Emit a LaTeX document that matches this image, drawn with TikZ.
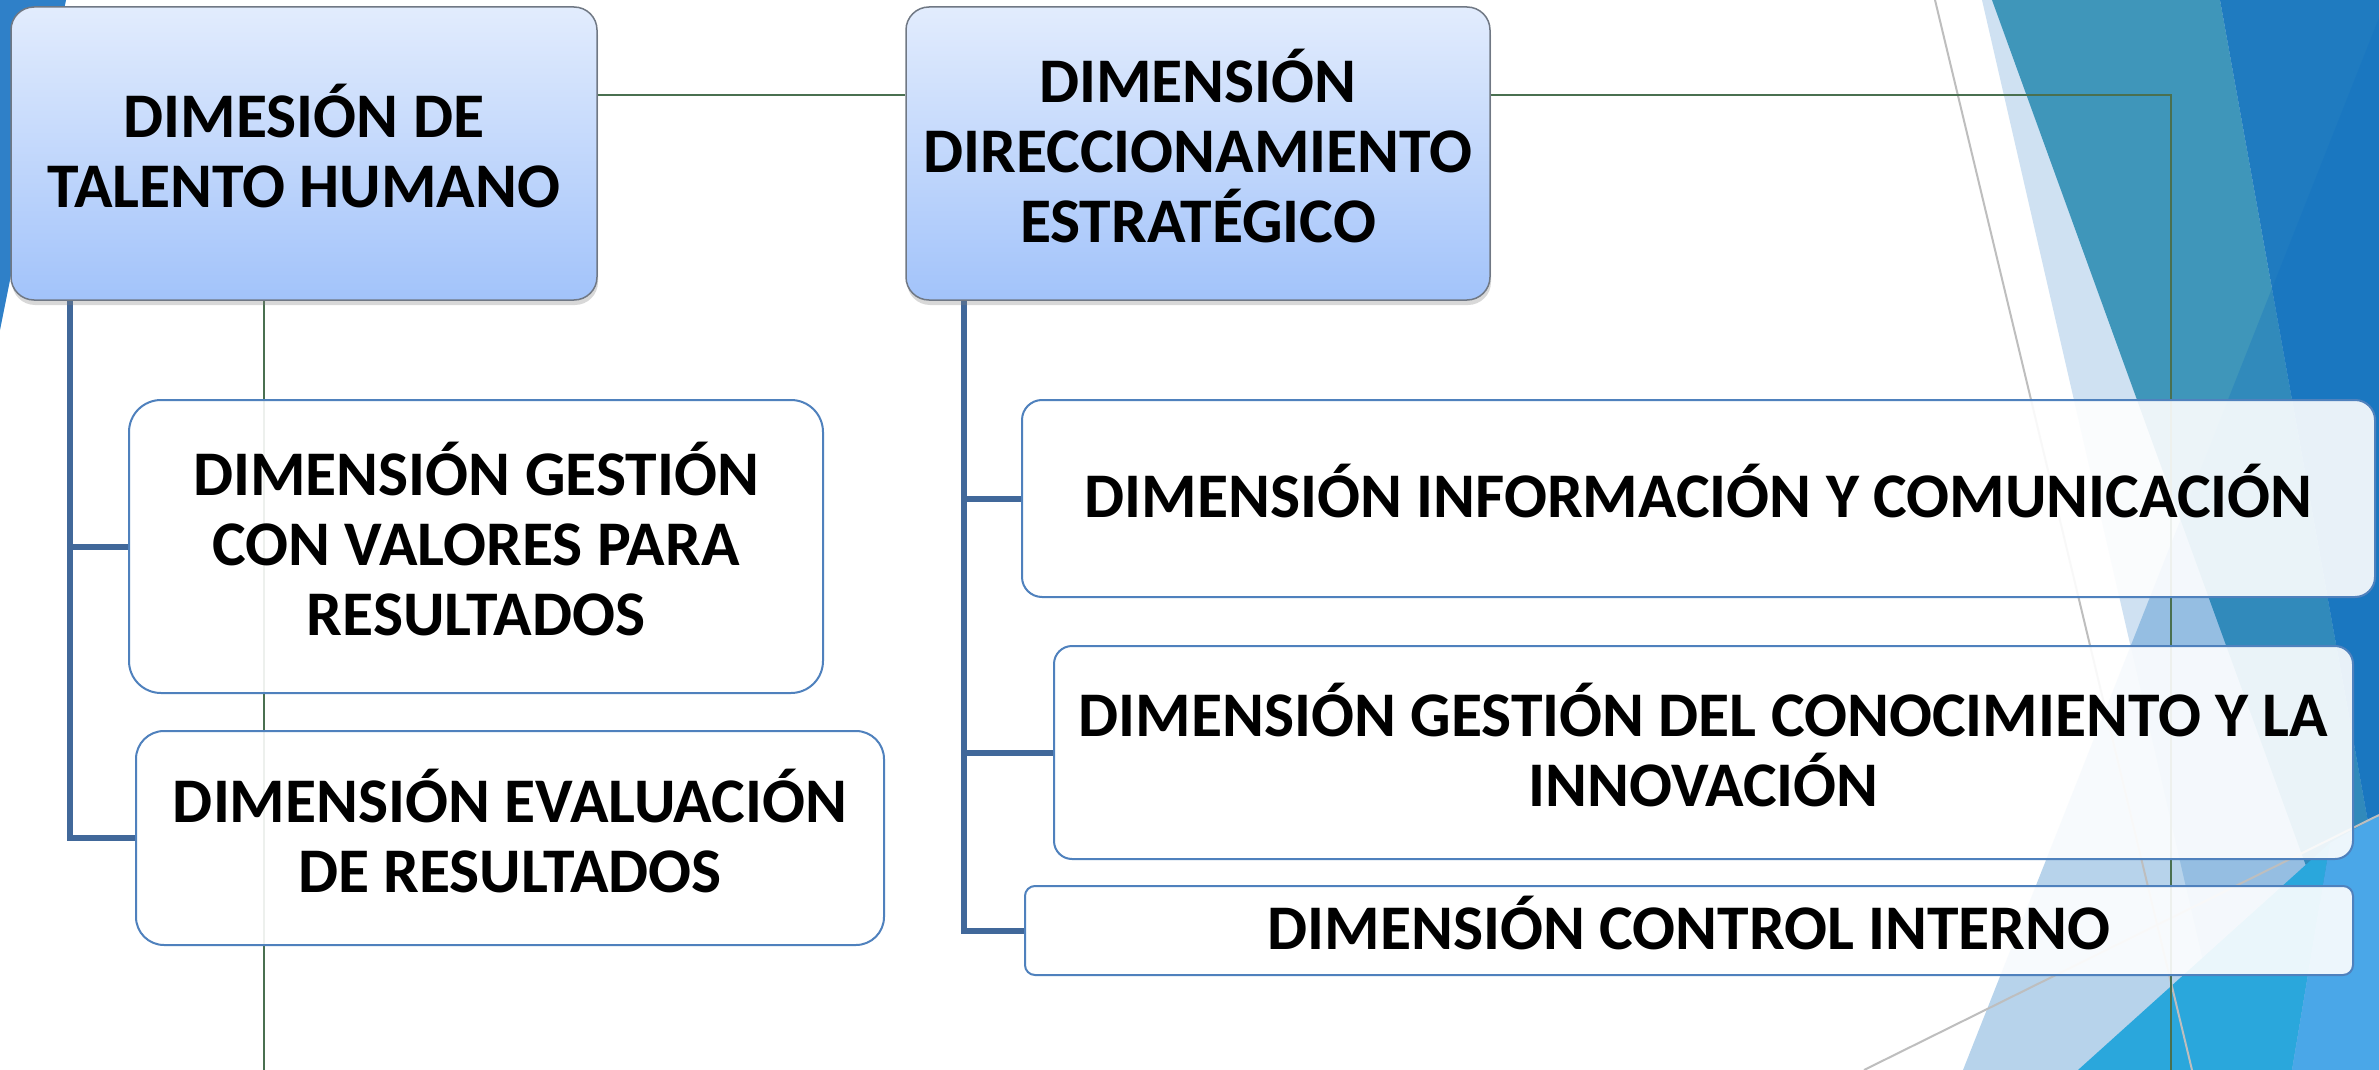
\documentclass[tikz,border=0pt]{standalone}
\usepackage{fontspec}
\setmainfont{Carlito}
\usetikzlibrary{shadows}
\pgfdeclarelayer{bg}
\pgfsetlayers{bg,main}
\definecolor{treeblue}{RGB}{65,104,154}
\definecolor{boxline}{RGB}{79,129,189}
\definecolor{greenline}{RGB}{74,112,80}
\definecolor{topc}{RGB}{226,236,253}
\definecolor{botc}{RGB}{162,195,250}
\definecolor{hdrline}{RGB}{112,120,132}
\definecolor{leftblue}{RGB}{47,128,200}
\definecolor{bandlight}{RGB}{207,225,242}
\definecolor{tealc}{RGB}{63,150,186}
\definecolor{darkblue}{RGB}{31,123,192}
\definecolor{ovblue}{RGB}{17,112,192}
\definecolor{cyanc}{RGB}{42,167,220}
\definecolor{lightb}{RGB}{74,167,232}
\definecolor{grayl}{RGB}{190,190,190}
\begin{document}
\begin{tikzpicture}[x=0.5pt,y=-0.5pt,
  hdr/.style={draw=hdrline, line width=0.75pt, top color=topc, bottom color=botc,
    rounded corners=11.5pt, inner sep=0pt,
    drop shadow={shadow xshift=0.5pt, shadow yshift=-2.5pt, opacity=0.3}},
  sub/.style={draw=boxline, line width=1pt, fill=white, fill opacity=0.9, inner sep=0pt},
  lbl/.style={font=\fontsize{31.8}{35}\selectfont\bfseries, align=center, inner sep=0pt, yshift=3.5pt},
  tree/.style={draw=treeblue, line width=3pt},
  conn/.style={draw=greenline, line width=0.75pt},
  gline/.style={draw=grayl, line width=1pt}]
\useasboundingbox (0,0) rectangle (2379,1070);

% boxes
\node[hdr, minimum width=293pt, minimum height=146.5pt] (b1) at (304,153.5) {};
\node[hdr, minimum width=292pt, minimum height=146.5pt] (b2) at (1198,153.5) {};
\node[sub, rounded corners=16pt, minimum width=347pt, minimum height=146.5pt] (b3) at (476,546.5) {};
\node[sub, rounded corners=14pt, minimum width=374pt, minimum height=107pt] (b4) at (510,838) {};
\node[sub, rounded corners=10pt, minimum width=676.5pt, minimum height=98.5pt] (b5) at (1698.5,498.5) {};
\node[sub, rounded corners=9pt, minimum width=649.5pt, minimum height=106.5pt] (b6) at (1703.5,752.5) {};
\node[sub, rounded corners=5pt, minimum width=664pt, minimum height=44.5pt] (b7) at (1689,930.5) {};

% texts
\node[lbl] (t1) at (b1.center) {DIMESIÓN DE\\TALENTO HUMANO};
\node[lbl] (t2) at (b2.center) {DIMENSIÓN\\DIRECCIONAMIENTO\\ESTRATÉGICO};
\node[lbl] (t3) at (b3.center) {DIMENSIÓN GESTIÓN\\CON VALORES PARA\\RESULTADOS};
\node[lbl] (t4) at (b4.center) {DIMENSIÓN EVALUACIÓN\\DE RESULTADOS};
\node[lbl] (t5) at (b5.center) {DIMENSIÓN INFORMACIÓN Y COMUNICACIÓN};
\node[lbl] (t6) at (b6.center) {DIMENSIÓN GESTIÓN DEL CONOCIMIENTO Y LA\\INNOVACIÓN};
\node[lbl] (t7) at (b7.center) {DIMENSIÓN CONTROL INTERNO};

\coordinate (gR) at (2171,95);
\coordinate (gB) at (2171,1070);
\coordinate (gL) at (264,1070);
\coordinate (tl) at (70,300);
\coordinate (tr) at (964,300);

\begin{pgfonlayer}{bg}
  \fill[white] (0,0) rectangle (2379,1070);
  \begin{scope}
    \clip (0,0) rectangle (2379,1070);
    \fill[leftblue] (0,0) -- (66,0) -- (0,330) -- cycle;
    \fill[bandlight] (1982,0) -- (2379,0) -- (2379,1070) -- (2228,1070) -- cycle;
    \fill[tealc] (1992,0) -- (2220,0) -- (2379,883) -- (2379,1070) -- (2380,1070) -- cycle;
    \fill[darkblue] (2220,0) -- (2379,0) -- (2379,883) -- cycle;
    \fill[ovblue, fill opacity=0.3] (2386,0) -- (1963,1070) -- (2379,1070) -- (2379,0) -- cycle;
    \fill[cyanc] (2078,1070) -- (2330,843) -- (2292,1070) -- cycle;
    \fill[lightb] (2292,1070) -- (2330,843) -- (2379,815) -- (2379,1070) -- cycle;
    \draw[gline] (1935,0) -- (2192,1070);
    \draw[gline] (1864,1070) -- (2379,815);
  \end{scope}
  % green connectors
  \draw[conn] (b1.east |- gR) -- (b2.west |- gR);
  \draw[conn] (b2.east |- gR) -- (gR) -- (gB);
  \draw[conn] (b1.south -| gL) -- (gL);
  % blue tree
  \draw[tree] (b1.south -| tl) |- (b3.west);
  \draw[tree] (b1.south -| tl) |- (b4.west);
  \draw[tree] (b2.south -| tr) |- (b5.west);
  \draw[tree] (b2.south -| tr) |- (b6.west);
  \draw[tree] (b2.south -| tr) |- (b7.west);
\end{pgfonlayer}
\end{tikzpicture}
\end{document}
